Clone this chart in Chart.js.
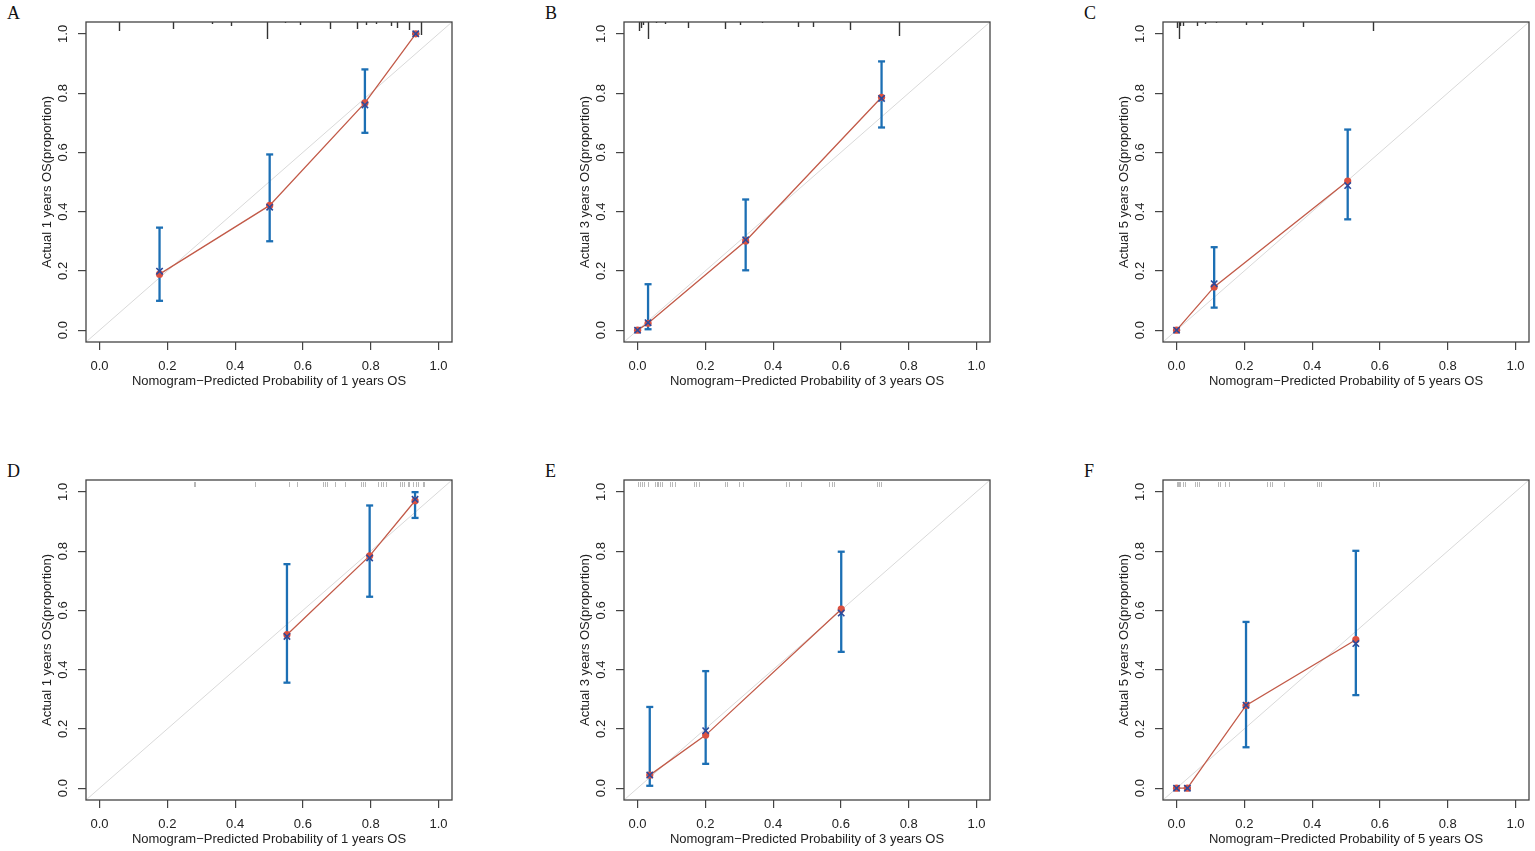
<!DOCTYPE html>
<html>
<head>
<meta charset="utf-8">
<title>Calibration curves</title>
<script src="https://cdn.jsdelivr.net/npm/chart.js@4.4.1/dist/chart.umd.min.js"></script>
<style>
  html, body { margin: 0; padding: 0; background: #fff; overflow: hidden; }
  body { width: 1535px; height: 851px; position: relative; }
  canvas { position: absolute; }
  .letter {
    position: absolute;
    font-family: "Liberation Serif", "Times New Roman", serif;
    font-size: 18px;
    line-height: 18px;
    color: #111;
  }
</style>
</head>
<body>
<div class="letter" style="left:7px;top:4px">A</div>
<div class="letter" style="left:545px;top:4px">B</div>
<div class="letter" style="left:1084px;top:4px">C</div>
<div class="letter" style="left:7px;top:462px">D</div>
<div class="letter" style="left:545px;top:462px">E</div>
<div class="letter" style="left:1084px;top:462px">F</div>

<canvas id="panelA" width="538" height="393" style="left:0px;top:0px"></canvas>
<canvas id="panelB" width="538" height="393" style="left:538px;top:0px"></canvas>
<canvas id="panelC" width="538" height="393" style="left:1077px;top:0px"></canvas>
<canvas id="panelD" width="538" height="393" style="left:0px;top:458px"></canvas>
<canvas id="panelE" width="538" height="393" style="left:538px;top:458px"></canvas>
<canvas id="panelF" width="538" height="393" style="left:1077px;top:458px"></canvas>

<script>
// axis range (R adds 4% on each side) and tick labels
const axisMin = -0.04;
const axisMax = 1.04;
const tickValues = [0, 0.2, 0.4, 0.6, 0.8, 1.0];

// A: 1 years OS, training
const predA = [0.177, 0.502, 0.783, 0.933];
const obsA = [0.189, 0.421, 0.767, 1.0];
const corrA = [0.199, 0.415, 0.760, 1.0];
const lowA = [0.099, 0.300, 0.666, 1.0];
const highA = [0.346, 0.593, 0.880, 1.0];
const rugA = [0.058, 0.218, 0.333, 0.387, 0.494, 0.548, 0.592, 0.680, 0.761, 0.786, 0.815, 0.859, 0.877, 0.914, 0.948];
const rugCountA = [9, 7, 2, 4, 17, 1, 3, 7, 7, 3, 2, 4, 6, 8, 13];

// B: 3 years OS, training
const predB = [0.0, 0.031, 0.319, 0.720];
const obsB = [0.0, 0.023, 0.301, 0.786];
const corrB = [0.0, 0.025, 0.305, 0.782];
const lowB = [0.0, 0.003, 0.202, 0.684];
const highB = [0.0, 0.155, 0.441, 0.907];
const rugB = [0.004, 0.011, 0.017, 0.032, 0.055, 0.080, 0.150, 0.257, 0.303, 0.366, 0.473, 0.519, 0.627, 0.772];
const rugCountB = [9, 6, 3, 17, 1, 2, 6, 7, 3, 1, 5, 5, 8, 14];

// C: 5 years OS, training
const predC = [0.0, 0.111, 0.505];
const obsC = [0.0, 0.146, 0.503];
const corrC = [0.0, 0.157, 0.488];
const lowC = [0.0, 0.076, 0.374];
const highC = [0.0, 0.280, 0.677];
const rugC = [0.0, 0.006, 0.010, 0.019, 0.059, 0.083, 0.116, 0.205, 0.251, 0.373, 0.580];
const rugCountC = [6, 17, 4, 4, 4, 2, 1, 3, 3, 5, 9];

// D: 1 years OS, validation
const predD = [0.553, 0.797, 0.931];
const obsD = [0.518, 0.784, 0.970];
const corrD = [0.512, 0.777, 0.975];
const lowD = [0.356, 0.646, 0.912];
const highD = [0.756, 0.954, 0.999];
const rugD = [0.279, 0.283, 0.460, 0.559, 0.582, 0.659, 0.664, 0.671, 0.696, 0.723, 0.772, 0.776, 0.784, 0.821, 0.831, 0.837, 0.845, 0.886, 0.892, 0.899, 0.909, 0.914, 0.926, 0.933, 0.940, 0.953, 0.958];

// E: 3 years OS, validation
const predE = [0.036, 0.201, 0.601];
const obsE = [0.044, 0.179, 0.604];
const corrE = [0.044, 0.194, 0.591];
const lowE = [0.008, 0.082, 0.460];
const highE = [0.274, 0.395, 0.798];
const rugE = [0.001, 0.007, 0.014, 0.019, 0.030, 0.052, 0.056, 0.060, 0.065, 0.072, 0.095, 0.102, 0.111, 0.167, 0.173, 0.180, 0.258, 0.265, 0.299, 0.310, 0.439, 0.446, 0.483, 0.566, 0.573, 0.579, 0.708, 0.713, 0.719];

// F: 5 years OS, validation
const predF = [0.0, 0.032, 0.205, 0.529];
const obsF = [0.0, 0.0, 0.279, 0.501];
const corrF = [0.0, 0.0, 0.280, 0.488];
const lowF = [0.0, 0.0, 0.138, 0.314];
const highF = [0.0, 0.0, 0.561, 0.801];
const rugF = [0.0, 0.003, 0.006, 0.011, 0.019, 0.024, 0.055, 0.060, 0.067, 0.121, 0.127, 0.144, 0.154, 0.268, 0.276, 0.283, 0.318, 0.414, 0.421, 0.427, 0.581, 0.589, 0.596];

const textFont = { family: "'Liberation Sans', Arial, sans-serif", size: 13 };
const textColor = "#222";
const frameColor = "#444";

// draws the box round the plot and the rug of predicted values at the top
const boxAndRug = {
  id: "boxAndRug",
  beforeDatasetsDraw: (chart, args, opts) => {
    const ctx = chart.ctx;
    const area = chart.chartArea;
    const xs = chart.scales.x;
    ctx.save();
    if (opts.counts) {
      // histogram-style rug: longest tick is 17px
      const maxCount = Math.max(...opts.counts);
      ctx.strokeStyle = "#333";
      ctx.lineWidth = 1.4;
      opts.values.forEach((v, i) => {
        const px = Math.round(xs.getPixelForValue(v)) + 0.5;
        ctx.beginPath();
        ctx.moveTo(px, area.top);
        ctx.lineTo(px, area.top + (opts.counts[i] / maxCount) * 17);
        ctx.stroke();
      });
    } else if (opts.values) {
      ctx.strokeStyle = "rgba(0,0,0,0.28)";
      ctx.lineWidth = 1;
      opts.values.forEach((v) => {
        const px = Math.round(xs.getPixelForValue(v)) + 0.5;
        ctx.beginPath();
        ctx.moveTo(px, area.top + 2);
        ctx.lineTo(px, area.top + 7);
        ctx.stroke();
      });
    }
    ctx.restore();
  },
  afterDraw: (chart) => {
    const ctx = chart.ctx;
    const a = chart.chartArea;
    ctx.save();
    ctx.strokeStyle = frameColor;
    ctx.lineWidth = 1.3;
    ctx.strokeRect(a.left, a.top, a.right - a.left, a.bottom - a.top);
    ctx.restore();
  },
};

function axisOptions(title, vertical) {
  return {
    type: "linear",
    min: axisMin,
    max: axisMax,
    afterBuildTicks: (ax) => {
      ax.ticks = tickValues.map((v) => ({ value: v }));
    },
    afterFit: (ax) => {
      if (vertical) ax.width = 50;
      else ax.height = 48;
    },
    border: { display: false },
    grid: {
      drawOnChartArea: false,
      drawTicks: true,
      tickLength: 8,
      color: frameColor,
      lineWidth: 1.2,
    },
    ticks: {
      font: textFont,
      color: textColor,
      padding: vertical ? 6 : 16,
      autoSkip: false,
      minRotation: vertical ? 90 : 0,
      maxRotation: vertical ? 90 : 0,
      crossAlign: "center",
      callback: (v) => Number(v).toFixed(1),
    },
    title: {
      display: true,
      text: title,
      font: textFont,
      color: textColor,
      padding: vertical ? { top: 4, bottom: 0 } : { top: 0, bottom: 1 },
    },
  };
}

function drawPanel(canvasId, years, pred, obs, corr, low, high, rug, rugCount) {
  const datasets = [];
  // bias-corrected estimates (blue x)
  datasets.push({
    data: pred.map((v, i) => ({ x: v, y: corr[i] })),
    pointStyle: "crossRot",
    pointRadius: 4.5,
    pointBorderWidth: 1.6,
    pointBorderColor: "#2d4a9b",
    pointBackgroundColor: "#2d4a9b",
    order: 0,
  });
  // observed proportions joined by the calibration line
  datasets.push({
    data: pred.map((v, i) => ({ x: v, y: obs[i] })),
    showLine: true,
    borderColor: "#c25a48",
    borderWidth: 1.3,
    pointStyle: "circle",
    pointRadius: 3.6,
    pointBorderWidth: 0,
    pointBackgroundColor: "#dc5140",
    order: 1,
  });
  // error bars, caps drawn as 'line' points
  pred.forEach((v, i) => {
    datasets.push({
      data: [
        { x: v, y: low[i] },
        { x: v, y: high[i] },
      ],
      showLine: true,
      borderColor: "#1c6fb4",
      borderWidth: 2.3,
      pointStyle: "line",
      pointRadius: 3.5,
      pointBorderWidth: 2.3,
      pointBorderColor: "#1c6fb4",
      order: 2,
    });
  });
  // ideal line y = x across the whole box
  datasets.push({
    data: [
      { x: axisMin, y: axisMin },
      { x: axisMax, y: axisMax },
    ],
    showLine: true,
    borderColor: "#d9d9d9",
    borderWidth: 1,
    pointRadius: 0,
    order: 3,
  });

  const ctx = document.getElementById(canvasId).getContext("2d");
  return new Chart(ctx, {
    type: "scatter",
    data: { datasets: datasets },
    options: {
      responsive: false,
      animation: false,
      events: [],
      layout: { padding: { left: 36, right: 86, top: 22, bottom: 3 } },
      scales: {
        x: axisOptions("Nomogram\u2212Predicted Probability of " + years + " years OS", false),
        y: axisOptions("Actual " + years + " years OS(proportion)", true),
      },
      plugins: {
        legend: { display: false },
        tooltip: { enabled: false },
        boxAndRug: { values: rug, counts: rugCount },
      },
    },
    plugins: [boxAndRug],
  });
}

drawPanel("panelA", 1, predA, obsA, corrA, lowA, highA, rugA, rugCountA);
drawPanel("panelB", 3, predB, obsB, corrB, lowB, highB, rugB, rugCountB);
drawPanel("panelC", 5, predC, obsC, corrC, lowC, highC, rugC, rugCountC);
drawPanel("panelD", 1, predD, obsD, corrD, lowD, highD, rugD, null);
drawPanel("panelE", 3, predE, obsE, corrE, lowE, highE, rugE, null);
drawPanel("panelF", 5, predF, obsF, corrF, lowF, highF, rugF, null);
</script>
</body>
</html>
